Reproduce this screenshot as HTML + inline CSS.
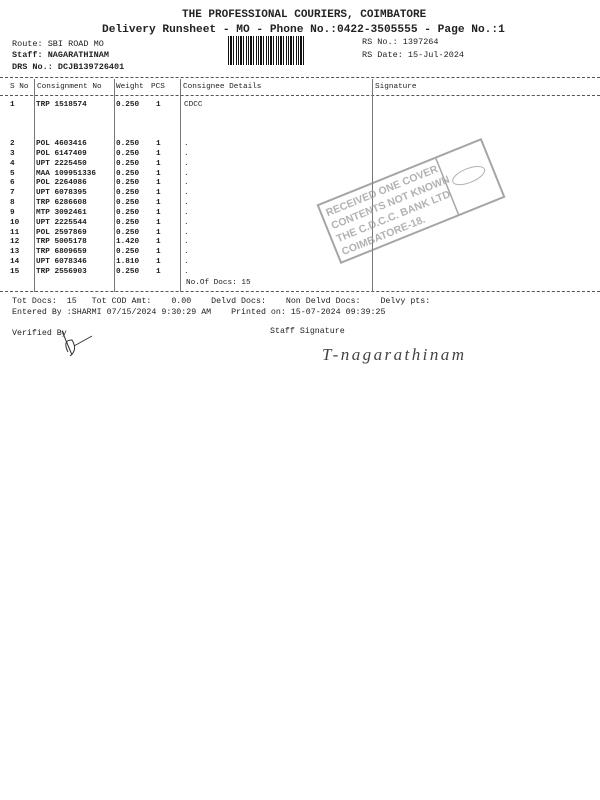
<!DOCTYPE html>
<html><head><style>
body{margin:0;background:#fff;}
.p{position:relative;width:600px;height:800px;overflow:hidden;font-family:"Liberation Mono",monospace;color:#222;}
.t{position:absolute;white-space:pre;font-size:7.7px;line-height:9px;}
.b{font-weight:bold;}
.h{position:absolute;left:0;width:600px;border-top:1px dashed #555;}
.v{position:absolute;top:79px;height:213px;border-left:1px solid #777;}
</style></head><body><div class="p">
<div class="t b" style="left:182px;top:9px;font-size:11px;line-height:12px">THE PROFESSIONAL COURIERS, COIMBATORE</div>
<div class="t b" style="left:102px;top:24px;font-size:11.2px;line-height:13px">Delivery Runsheet - MO - Phone No.:0422-3505555 - Page No.:1</div>
<div class="t" style="left:12px;top:40px;font-size:8.5px">Route: SBI ROAD MO</div>
<div class="t b" style="left:12px;top:51px;font-size:8.5px">Staff: NAGARATHINAM</div>
<div class="t b" style="left:12px;top:63px;font-size:8.5px">DRS No.: DCJB139726401</div>
<div style="position:absolute;left:228px;top:36px;width:78px;height:29px;background:repeating-linear-gradient(90deg,#111 0 1px,#fff 1px 2px,#111 2px 4px,#fff 4px 5px,#111 5px 6px,#fff 6px 8px,#111 8px 9px,#fff 9px 10px)"></div>
<div class="t" style="left:362px;top:38px;font-size:8.5px">RS No.: 1397264</div>
<div class="t" style="left:362px;top:51px;font-size:8.5px">RS Date: 15-Jul-2024</div>
<div class="h" style="top:77px"></div>
<div class="h" style="top:95px"></div>
<div class="h" style="top:291px"></div>
<div class="v" style="left:34px"></div><div class="v" style="left:114px"></div><div class="v" style="left:180px"></div><div class="v" style="left:372px"></div>
<div class="t" style="left:10px;top:83px">S No</div><div class="t" style="left:37px;top:83px">Consignment No</div><div class="t" style="left:116px;top:83px">Weight</div><div class="t" style="left:151px;top:83px">PCS</div><div class="t" style="left:183px;top:83px">Consignee Details</div><div class="t" style="left:375px;top:83px">Signature</div>
<div class="t b" style="left:10px;top:101px">1</div><div class="t b" style="left:36px;top:101px">TRP 1518574</div><div class="t b" style="left:116px;top:101px">0.250</div><div class="t b" style="left:156px;top:101px">1</div><div class="t" style="left:184px;top:101px">CDCC</div>
<div class="t b" style="left:10px;top:140px;line-height:9.85px">2
3
4
5
6
7
8
9
10
11
12
13
14
15</div>
<div class="t b" style="left:36px;top:140px;line-height:9.85px">POL 4603416
POL 6147409
UPT 2225450
MAA 109951336
POL 2264086
UPT 6078395
TRP 6286608
MTP 3092461
UPT 2225544
POL 2597869
TRP 5005178
TRP 6809659
UPT 6078346
TRP 2556903</div>
<div class="t b" style="left:116px;top:140px;line-height:9.85px">0.250
0.250
0.250
0.250
0.250
0.250
0.250
0.250
0.250
0.250
1.420
0.250
1.810
0.250</div>
<div class="t b" style="left:156px;top:140px;line-height:9.85px">1
1
1
1
1
1
1
1
1
1
1
1
1
1</div>
<div class="t" style="left:184px;top:140px;line-height:9.85px">.
.
.
.
.
.
.
.
.
.
.
.
.
.</div>
<div class="t" style="left:186px;top:279px">No.Of Docs: 15</div>
<div class="t" style="left:12px;top:297px;font-size:8.3px">Tot Docs:  15   Tot COD Amt:    0.00    Delvd Docs:    Non Delvd Docs:    Delvy pts:</div>
<div class="t" style="left:12px;top:308px;font-size:8.3px">Entered By :SHARMI 07/15/2024 9:30:29 AM    Printed on: 15-07-2024 09:39:25</div>
<div class="t" style="left:12px;top:329px;font-size:8.3px">Verified By</div>
<div class="t" style="left:270px;top:327px;font-size:8.3px">Staff Signature</div>
<svg style="position:absolute;left:0;top:0" width="600" height="800">
<path d="M62 331 L72 355 M68 352 Q62 340 72 340 Q78 350 70 356 M74 346 L92 336" stroke="#333" fill="none" stroke-width="1"/>
<text x="322" y="360" font-family="Liberation Serif,serif" font-style="italic" font-size="17" fill="#444" textLength="142">T-nagarathinam</text>
<g transform="rotate(-22 411 201)" opacity="0.75">
<rect x="323" y="170" width="176" height="62" fill="none" stroke="#888" stroke-width="2"/>
<line x1="450" y1="170" x2="450" y2="232" stroke="#888" stroke-width="1.5"/>
<text font-family="Liberation Sans,sans-serif" font-size="10.5" font-weight="bold" fill="#999"><tspan x="328" y="184">RECEIVED ONE COVER</tspan><tspan x="328" y="198">CONTENTS NOT KNOWN</tspan><tspan x="328" y="212">THE C.D.C.C. BANK LTD</tspan><tspan x="328" y="226">COIMBATORE-18.</tspan></text>
<ellipse cx="474" cy="199" rx="17" ry="7" fill="none" stroke="#999"/>
</g>
</svg>
</div></body></html>
